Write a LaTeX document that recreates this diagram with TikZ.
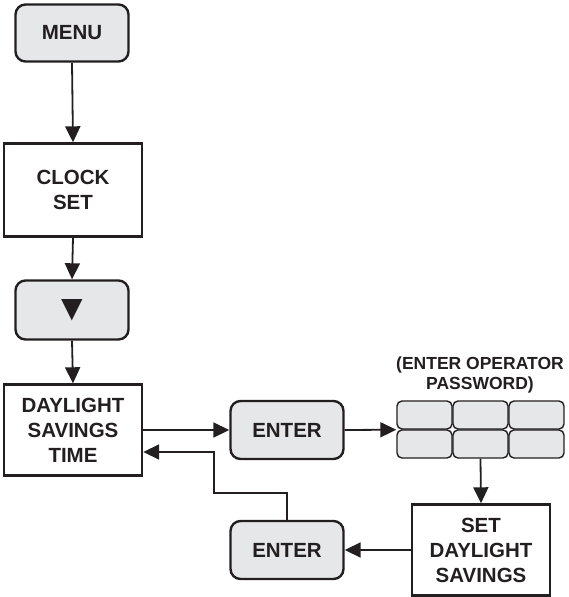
\documentclass[tikz,border=0pt]{standalone}
\usepackage{fontspec}
\setmainfont{Liberation Sans}
\newfontfamily\glyphfont{DejaVu Sans}
\usetikzlibrary{arrows.meta,positioning}

\definecolor{btngray}{RGB}{230,231,232}
\definecolor{inkgray}{RGB}{35,31,32}

\tikzset{
  btnbox/.style={draw=inkgray,line width=2.4pt,fill=btngray,rounded corners=10pt,
    minimum width=113pt,minimum height=58pt,align=center,
    font=\fontsize{20.5}{25}\selectfont\bfseries,text=inkgray},
  plainbox/.style={draw=inkgray,line width=2.4pt,fill=white,
    minimum width=138pt,minimum height=91pt,align=center,
    font=\fontsize{20.5}{25}\selectfont\bfseries,text=inkgray},
  padkey/.style={draw=inkgray,line width=1.4pt,fill=btngray,rounded corners=5pt,
    minimum width=55pt,minimum height=28pt},
  arr/.style={draw=inkgray,line width=1.8pt,-{Triangle[length=16pt,width=15pt]}},
}

\begin{document}
\begin{tikzpicture}[x=1pt,y=-1pt]
\useasboundingbox (0,0) rectangle (569,597);

% left column
\node[btnbox,minimum height=57pt] (menu) at (72,33) {MENU};
\node[plainbox,minimum height=93pt] (clock) at (73,190) {CLOCK\\SET};
\node[btnbox,minimum height=59pt] (down) at (72,310)
  {\glyphfont\fontsize{28}{28}\selectfont ▼};
\node[plainbox] (dst) at (73,430) {DAYLIGHT\\SAVINGS\\TIME};

% enter buttons
\node[btnbox] (enterA) at (287,430) {ENTER};
\node[btnbox] (enterB) at (287,550) {ENTER};

% keypad
\foreach \r/\ry in {1/415,2/444}
  \foreach \c/\cx in {1/424.5,2/480.5,3/536.5}
    \node[padkey] (k\r\c) at (\cx,\ry) {};
\node[align=center,text=inkgray,font=\fontsize{17.5}{20}\selectfont\bfseries]
  (pwd) at (480,375) {(ENTER OPERATOR\\PASSWORD)};

\node[plainbox] (setdst) at (481,550) {SET\\DAYLIGHT\\SAVINGS};

% connectors
\coordinate (turn) at (214,493);
\draw[arr] (menu.south) -- (clock.north);
\draw[arr] (clock.south) -- (down.north);
\draw[arr] (down.south) -- (dst.north);
\draw[arr] (dst.east) -- (enterA.west);
\draw[arr] (enterA.east) -- (k11.south west);
\draw[arr] (k22.south) -- (setdst.north);
\draw[arr] (setdst.west) -- (enterB.east);
\draw[arr] (enterB.north) |- (turn) |- ([yshift=-22pt]dst.east);
\end{tikzpicture}
\end{document}
